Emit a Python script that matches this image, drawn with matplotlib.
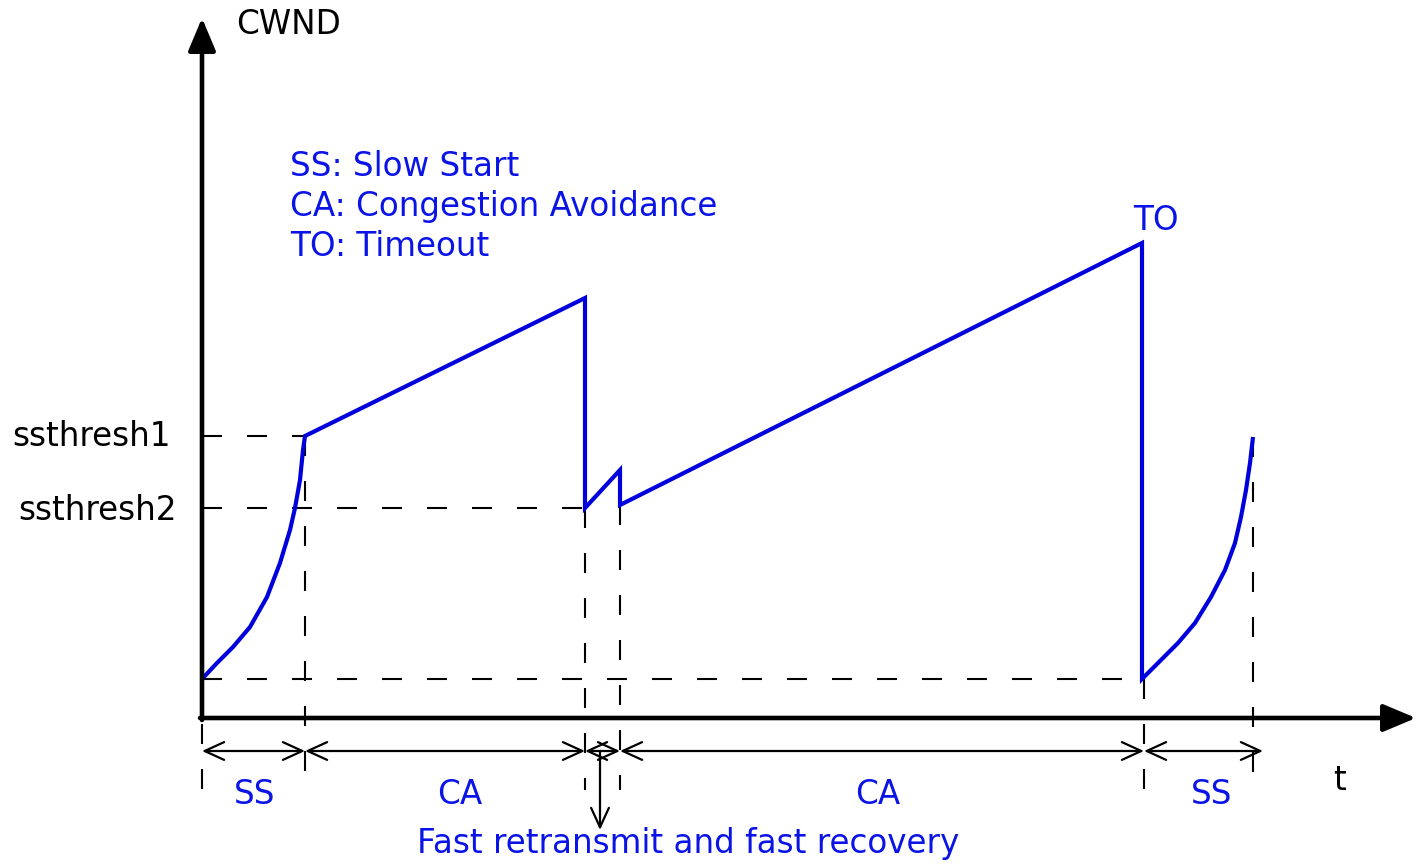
import matplotlib.pyplot as plt

plt.rcParams['font.family'] = ['DejaVu Sans']
plt.rcParams['lines.scale_dashes'] = False

# cwnd trace (time, window)
t_ss1 = [0, 1.5, 3.1, 4.8, 6.5, 7.8, 8.8, 9.3, 9.8, 10.1, 10.3]
w_ss1 = [3.9, 5.5, 7.1, 9.1, 12.1, 15.5, 18.8, 21.0, 23.8, 26.8, 28.2]

t_mid = [38.3, 38.3, 41.8, 41.8, 94.0, 94.0]
w_mid = [42.0, 21.0, 24.8, 21.3, 47.5, 3.9]

t_ss2 = [95.6, 97.6, 99.3, 100.9, 102.3, 103.3, 103.9, 104.4, 104.8, 105.1]
w_ss2 = [5.5, 7.5, 9.5, 12.1, 14.8, 17.5, 20.1, 22.8, 25.5, 28.1]

t_cwnd = t_ss1 + t_mid + t_ss2
w_cwnd = w_ss1 + w_mid + w_ss2

ssthresh1 = 28.2
ssthresh2 = 21.0
w_init = 3.9

# phase boundaries on the time axis
bounds = [0, 10.3, 38.3, 41.8, 94.2, 106.1]
tick_t = [0, 10.3, 38.3, 41.8, 94.2, 105.1]
tick_top = [w_init, ssthresh1, ssthresh2, 21.3, w_init, 28.1]
phase_names = ['SS', 'CA', 'CA', 'SS']
phase_x = [5.3, 25.8, 67.6, 101.0]

legend_lines = ['SS: Slow Start', 'CA: Congestion Avoidance', 'TO: Timeout']

BLUE = '#0000dd'
TXT = '#0a14e6'
FS = 23.5

fig = plt.figure(figsize=(14.16, 8.66), dpi=100)
ax = fig.add_axes([0, 0, 1, 1])
ax.set_xlim(-20.2, 121.4)
ax.set_ylim(-14.8, 71.8)
ax.axis('off')

dash = (0, (14.4, 18))

# horizontal guide lines
ax.plot([0, 10.3], [ssthresh1, ssthresh1], color='k', lw=1.5, ls=dash)
ax.plot([0, 38.3], [ssthresh2, ssthresh2], color='k', lw=1.5, ls=dash)
ax.plot([0, 94.0], [w_init, w_init], color='k', lw=1.5, ls=dash)

# vertical guide lines
for x, top in zip(tick_t, tick_top):
    ax.plot([x, x], [top, -7.2], color='k', lw=1.5, ls=dash)

# axes with arrow heads
head = '-|>,head_length=1.0,head_width=0.42'
ax.annotate('', xy=(0, 70.0), xytext=(0, -0.2),
            arrowprops=dict(arrowstyle=head, lw=3.3, color='k',
                            mutation_scale=20, shrinkA=0, shrinkB=0))
ax.annotate('', xy=(121.4, 0), xytext=(-0.2, 0),
            arrowprops=dict(arrowstyle=head, lw=3.3, color='k',
                            mutation_scale=20, shrinkA=0, shrinkB=0))

# cwnd curve
ax.plot(t_cwnd, w_cwnd, color=BLUE, lw=3, solid_joinstyle='miter', solid_capstyle='butt')

# phase span arrows
span = '<->,head_length=0.7,head_width=0.32'
for a, b in zip(bounds[:-1], bounds[1:]):
    ax.annotate('', xy=(b, -3.3), xytext=(a, -3.3),
                arrowprops=dict(arrowstyle=span, lw=1.6, color='k',
                                mutation_scale=20, shrinkA=0, shrinkB=0))

for name, x in zip(phase_names, phase_x):
    ax.text(x, -7.7, name, color=TXT, fontsize=FS, ha='center', va='center')

# fast retransmit pointer
ax.annotate('', xy=(39.8, -11.2), xytext=(39.8, -3.3),
            arrowprops=dict(arrowstyle='->,head_length=0.7,head_width=0.32',
                            lw=1.6, color='k', mutation_scale=20, shrinkA=0, shrinkB=0))
ax.text(48.6, -12.6, 'Fast retransmit and fast recovery', color=TXT, fontsize=FS,
        ha='center', va='center')

# labels
ax.text(3.4, 69.3, 'CWND', fontsize=FS, ha='left', va='center')
ax.text(113.8, -6.2, 't', fontsize=FS, ha='center', va='center')
ax.text(-19.0, ssthresh1, 'ssthresh1', fontsize=FS, ha='left', va='center')
ax.text(-18.4, 20.7, 'ssthresh2', fontsize=FS, ha='left', va='center')
ax.text(93.1, 49.8, 'TO', color=TXT, fontsize=FS, ha='left', va='center')

for i, line in enumerate(legend_lines):
    ax.text(8.8, 55.1 - 3.95 * i, line, color=TXT, fontsize=FS, ha='left', va='center')

fig.savefig('out.png', dpi=100)
